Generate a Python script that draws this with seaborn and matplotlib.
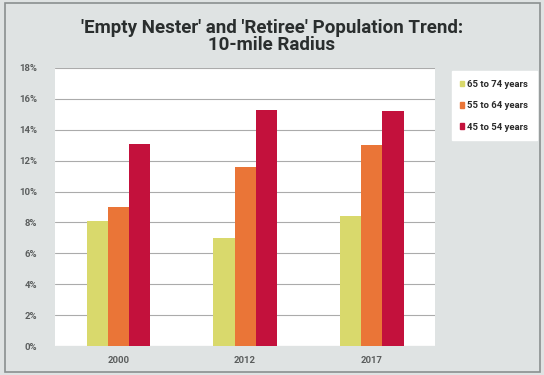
import matplotlib
matplotlib.use("Agg")
import matplotlib.pyplot as plt
from matplotlib.patches import Rectangle
from matplotlib.ticker import FuncFormatter, MultipleLocator
import pandas as pd
import seaborn as sns

years = ["2000", "2012", "2017"]
age_groups = ["65 to 74 years", "55 to 64 years", "45 to 54 years"]
share_65_74 = [8.1, 7.0, 8.4]
share_55_64 = [9.0, 11.6, 13.0]
share_45_54 = [13.05, 15.3, 15.2]
bar_colors = ["#d9d96c", "#ea7537", "#c3113c"]

rows = []
for group, values in zip(age_groups, [share_65_74, share_55_64, share_45_54]):
    for year, v in zip(years, values):
        rows.append({"year": year, "group": group, "share": v})
df = pd.DataFrame(rows)

sns.set_theme(style="white")
plt.rcParams["font.family"] = ["Roboto", "DejaVu Sans"]

fig = plt.figure(figsize=(5.44, 3.75), dpi=100)
fig.patch.set_facecolor("#dfe3e3")
fig.patches.append(Rectangle((0.009, 0.008), 0.983, 0.984, transform=fig.transFigure,
                             fill=False, edgecolor="#8a8f90", linewidth=1.2))

ax = fig.add_axes([0.101, 0.077, 0.699, 0.742])
ax.set_facecolor("white")
sns.barplot(data=df, x="year", y="share", hue="group", hue_order=age_groups,
            order=years, palette=bar_colors, width=0.5, saturation=1,
            gap=0, linewidth=0, ax=ax, legend=False, zorder=3)

ax.set_ylim(0, 18)
ax.yaxis.set_major_locator(MultipleLocator(2))
ax.yaxis.set_major_formatter(FuncFormatter(lambda v, _: f"{v:.0f}%"))
ax.grid(axis="y", color="#ababab", linewidth=0.8, zorder=0)
ax.set_axisbelow(True)
for s in ax.spines.values():
    s.set_visible(False)
ax.set_xlabel("")
ax.set_ylabel("")
ax.tick_params(axis="both", length=0, labelsize=6.8, labelcolor="#5a5d5d")
ax.tick_params(axis="y", pad=13)
ax.tick_params(axis="x", pad=7)
for t in ax.get_yticklabels() + ax.get_xticklabels():
    t.set_fontweight("bold")

fig.text(0.5, 0.902, "'Empty Nester' and 'Retiree' Population Trend:\n10-mile Radius",
         ha="center", va="center", fontsize=13.5, fontweight="bold",
         color="#2a2e2e", linespacing=0.95)

handles = [Rectangle((0, 0), 1, 1, color=c) for c in bar_colors]
leg = fig.legend(handles, age_groups, loc="upper left",
                 bbox_to_anchor=(0.822, 0.822), frameon=True, fancybox=False,
                 fontsize=6.8, handlelength=0.4, handleheight=0.55,
                 handletextpad=0.3, labelspacing=1.3, borderpad=0.9,
                 edgecolor="white", facecolor="white", framealpha=1)
for t in leg.get_texts():
    t.set_color("#2a2a2a")
    t.set_fontweight("bold")

fig.savefig("out.png", dpi=100, facecolor=fig.get_facecolor())
